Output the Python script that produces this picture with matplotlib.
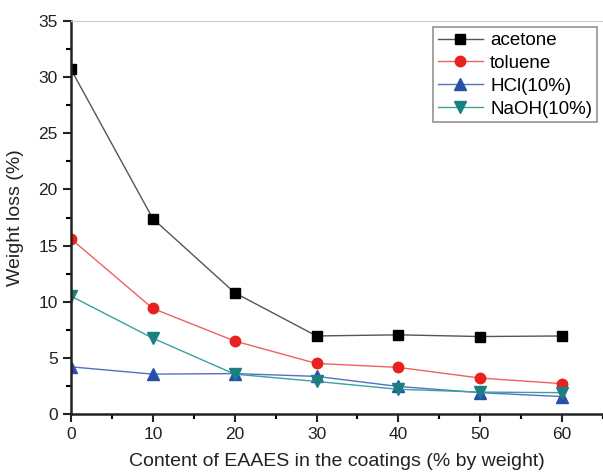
import numpy as np
import matplotlib
matplotlib.use("Agg")
import matplotlib.pyplot as plt
from matplotlib.ticker import MultipleLocator

plt.rcParams['font.family'] = ['Liberation Sans', 'DejaVu Sans']

content = [0, 10, 20, 30, 40, 50, 60]
acetone = [30.7, 17.4, 10.8, 6.95, 7.05, 6.9, 6.95]
toluene = [15.6, 9.4, 6.5, 4.5, 4.15, 3.2, 2.7]
hcl = [4.2, 3.55, 3.6, 3.35, 2.45, 1.9, 1.55]
naoh = [10.5, 6.75, 3.55, 2.9, 2.2, 1.95, 1.9]

fig = plt.figure(figsize=(6.03, 4.74), dpi=100)
ax = fig.add_axes([0.1177, 0.1266, 0.8823, 0.829])

ax.plot(content, acetone, color="#555555", lw=1, marker="s", ms=6.5, mfc="black", mec="black", label="acetone")
ax.plot(content, toluene, color="#f06060", lw=1, marker="o", ms=7.5, mfc="#e8201e", mec="#e8201e", label="toluene")
ax.plot(content, hcl, color="#5570c0", lw=1, marker="^", ms=8, mfc="#2a4fa8", mec="#2a4fa8", label="HCl(10%)")
ax.plot(content, naoh, color="#3aa0a0", lw=1, marker="v", ms=8, mfc="#1a7f80", mec="#1a7f80", label="NaOH(10%)")

ax.set_xlim(0, 65)
ax.set_ylim(0, 35)
ax.xaxis.set_major_locator(MultipleLocator(10))
ax.xaxis.set_minor_locator(MultipleLocator(5))
ax.yaxis.set_major_locator(MultipleLocator(5))
ax.yaxis.set_minor_locator(MultipleLocator(2.5))
ax.tick_params(which="major", direction="out", length=6, width=1.5, labelsize=12.5, colors="#222222")
ax.tick_params(which="minor", direction="out", length=3.5, width=1.5)
for s in ["left", "bottom"]:
    ax.spines[s].set_linewidth(1.8)
    ax.spines[s].set_color("#222222")
ax.spines["top"].set_color("#cccccc")
ax.spines["right"].set_visible(False)

ax.set_xlabel("Content of EAAES in the coatings (% by weight)", fontsize=14, color="#222222", labelpad=8)
ax.set_ylabel("Weight loss (%)", fontsize=14, color="#222222", labelpad=10)

leg = ax.legend(loc="upper right", bbox_to_anchor=(0.999, 0.998), fontsize=13.5, fancybox=False,
                edgecolor="#777777", handlelength=2.4, borderpad=0.25, labelspacing=0.3,
                handletextpad=0.4, borderaxespad=0.3)
leg.get_frame().set_linewidth(1.2)

fig.savefig("out.png", dpi=100)
